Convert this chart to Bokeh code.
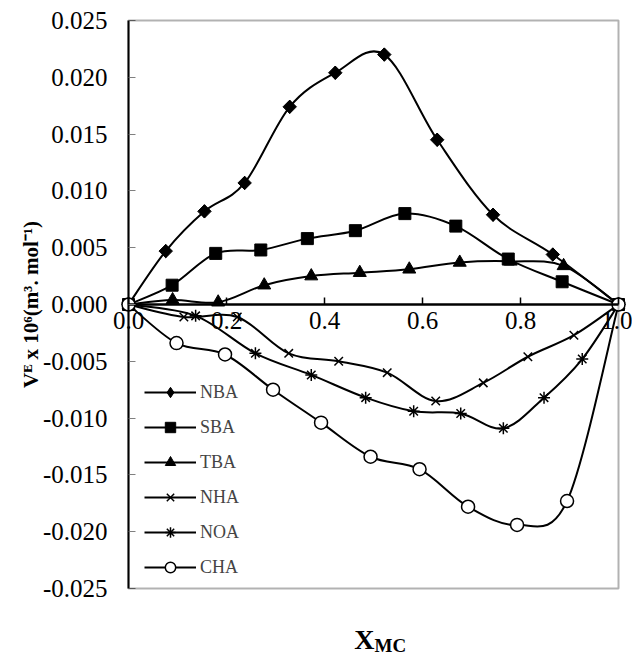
import numpy as np
from bokeh.plotting import figure
from bokeh.models import (Legend, LegendItem, Label, FixedTicker, ColumnDataSource,
                          LinearAxis, BoxAnnotation, Range1d)
from bokeh.embed import file_html
from bokeh.resources import INLINE

# ---------------- data ----------------
series_names = ["NBA", "SBA", "TBA", "NHA", "NOA", "CHA"]

x_nba = [0.0, 0.076, 0.155, 0.237, 0.329, 0.422, 0.522, 0.630, 0.744, 0.866, 1.0]
y_nba = [0.0, 0.0047, 0.0082, 0.0107, 0.0174, 0.0204, 0.0220, 0.0145, 0.0079, 0.0044, 0.0]

x_sba = [0.0, 0.089, 0.178, 0.270, 0.365, 0.463, 0.564, 0.668, 0.775, 0.885, 1.0]
y_sba = [0.0, 0.0017, 0.0045, 0.0048, 0.0058, 0.0065, 0.0080, 0.0069, 0.0040, 0.0020, 0.0]

x_tba = [0.0, 0.090, 0.183, 0.277, 0.373, 0.472, 0.573, 0.676, 0.780, 0.888, 1.0]
y_tba = [0.0, 0.0004, 0.0002, 0.0017, 0.0025, 0.0028, 0.0031, 0.0037, 0.0038, 0.0034, 0.0]

x_nha = [0.0, 0.113, 0.222, 0.327, 0.429, 0.528, 0.627, 0.724, 0.815, 0.909, 1.0]
y_nha = [0.0, -0.0011, -0.0011, -0.0043, -0.0050, -0.0060, -0.0085, -0.0069, -0.0046, -0.0027, 0.0]

x_noa = [0.0, 0.137, 0.259, 0.373, 0.484, 0.582, 0.678, 0.765, 0.848, 0.926, 1.0]
y_noa = [0.0, -0.0010, -0.0043, -0.0062, -0.0082, -0.0094, -0.0096, -0.0109, -0.0082, -0.0048, 0.0]

x_cha = [0.0, 0.098, 0.197, 0.295, 0.393, 0.494, 0.594, 0.693, 0.793, 0.895, 1.0]
y_cha = [0.0, -0.0034, -0.0044, -0.0075, -0.0104, -0.0134, -0.0145, -0.0178, -0.0194, -0.0173, 0.0]

x_ticks = [0.0, 0.2, 0.4, 0.6, 0.8, 1.0]
x_tick_labels = ["0.0", "0.2", "0.4", "0.6", "0.8", "1.0"]
y_ticks = [-0.025, -0.020, -0.015, -0.010, -0.005, 0.0, 0.005, 0.010, 0.015, 0.020, 0.025]
y_tick_labels = ["-0.025", "-0.020", "-0.015", "-0.010", "-0.005", "0.000",
                 "0.005", "0.010", "0.015", "0.020", "0.025"]

y_axis_title = "V\u1d31 x 10\u2076(m\u00b3. mol\u207b\u00b9)"
x_axis_main = "X"
x_axis_sub = "MC"

SERIF = "Liberation Serif"


def smooth_segments(xs, ys):
    """Catmull-Rom style Bezier control points (Excel-like smoothing)."""
    pts = np.column_stack([xs, ys]).astype(float)
    n = len(pts)
    d = dict(x0=[], y0=[], x1=[], y1=[], cx0=[], cy0=[], cx1=[], cy1=[])
    for i in range(n - 1):
        p0 = pts[i]
        p1 = pts[i + 1]
        pm = pts[i - 1] if i > 0 else pts[i]
        pp = pts[i + 2] if i + 2 < n else pts[i + 1]
        c0 = p0 + (p1 - pm) / 6.0
        c1 = p1 - (pp - p0) / 6.0
        d["x0"].append(p0[0]); d["y0"].append(p0[1])
        d["x1"].append(p1[0]); d["y1"].append(p1[1])
        d["cx0"].append(c0[0]); d["cy0"].append(c0[1])
        d["cx1"].append(c1[0]); d["cy1"].append(c1[1])
    return ColumnDataSource(d)


# frame fills the whole canvas; the plot box spans x 0..1 and y -0.025..0.025
W, H = 632, 663
box_left_px, box_w_px = 128, 490
zero_px, px_per_unit = 304, 11360.0
x_range = Range1d(-box_left_px / box_w_px, (W - box_left_px) / box_w_px)
y_range = Range1d(-(H - zero_px) / px_per_unit, zero_px / px_per_unit)

p = figure(width=W, height=H, x_range=x_range, y_range=y_range,
           x_axis_type=None, y_axis_type=None,
           output_backend="svg", toolbar_location=None,
           min_border_left=0, min_border_right=0, min_border_top=0, min_border_bottom=0)
p.background_fill_color = "white"
p.border_fill_color = "white"
p.outline_line_color = None

# x axis crossing at y = 0
xa = LinearAxis(fixed_location=0, bounds=(x_ticks[0], x_ticks[-1]))
xa.ticker = FixedTicker(ticks=x_ticks)
xa.major_label_overrides = dict(zip(x_ticks, x_tick_labels))
xa.major_tick_in = 7
xa.major_tick_out = 0
xa.minor_tick_line_color = None
xa.major_tick_line_color = "black"
xa.major_tick_line_width = 1.5
xa.axis_line_color = "black"
xa.axis_line_width = 2.5
xa.major_label_text_font = SERIF
xa.major_label_text_font_size = "25px"
xa.major_label_text_color = "black"
xa.major_label_standoff = 7
p.add_layout(xa, "below")

# y axis at x = 0
ya = LinearAxis(fixed_location=0, bounds=(y_ticks[0], y_ticks[-1]))
ya.ticker = FixedTicker(ticks=y_ticks)
ya.major_label_overrides = dict(zip(y_ticks, y_tick_labels))
ya.major_tick_in = 7
ya.major_tick_out = 0
ya.minor_tick_line_color = None
ya.major_tick_line_color = "#808080"
ya.axis_line_color = "black"
ya.axis_line_width = 2
ya.major_label_text_font = SERIF
ya.major_label_text_font_size = "25px"
ya.major_label_text_color = "black"
ya.major_label_standoff = 21
ya.axis_label = y_axis_title
ya.axis_label_text_font = SERIF
ya.axis_label_text_font_style = "bold"
ya.axis_label_text_font_size = "21px"
ya.axis_label_text_color = "black"
ya.axis_label_standoff = -3
p.add_layout(ya, "left")

# plot box
p.add_layout(BoxAnnotation(left=x_ticks[0], right=x_ticks[-1], bottom=y_ticks[0], top=y_ticks[-1],
                           fill_color=None, line_color="black", line_width=2))

styles = {
    "NBA": dict(marker="square", size=9.5, angle=np.pi / 4, fill_color="black", line_width=1),
    "SBA": dict(marker="square", size=12, angle=0, fill_color="black", line_width=1),
    "TBA": dict(marker="triangle", size=13, angle=0, fill_color="black", line_width=1),
    "NHA": dict(marker="x", size=12, angle=0, fill_color="black", line_width=1.5),
    "NOA": dict(marker="asterisk", size=12, angle=0, fill_color="black", line_width=1.5),
    "CHA": dict(marker="circle", size=13, angle=0, fill_color="white", line_width=1.5),
}
data = {
    "NBA": (x_nba, y_nba), "SBA": (x_sba, y_sba), "TBA": (x_tba, y_tba),
    "NHA": (x_nha, y_nha), "NOA": (x_noa, y_noa), "CHA": (x_cha, y_cha),
}

items = []
for name in series_names:
    xs, ys = data[name]
    st = styles[name]
    curve = p.bezier(x0="x0", y0="y0", x1="x1", y1="y1", cx0="cx0", cy0="cy0",
                     cx1="cx1", cy1="cy1", source=smooth_segments(xs, ys),
                     line_color="black", line_width=2)
    leg_marker = None
    if name == "NBA":
        # plain diamond (shown in legend), covered by the rotated square below
        leg_marker = p.scatter(x=xs, y=ys, marker="diamond", size=13,
                               fill_color="black", line_color="black")
    sc = p.scatter(x=xs, y=ys, marker=st["marker"], size=st["size"], angle=st["angle"],
                   fill_color=st["fill_color"], line_color="black", line_width=st["line_width"])
    items.append(LegendItem(label=name, renderers=[curve, leg_marker or sc]))

legend = Legend(items=items, location=(144, 83), padding=0, margin=0, spacing=9,
                glyph_width=52, glyph_height=26, label_height=26, label_standoff=4,
                label_text_font=SERIF, label_text_font_size="18px",
                background_fill_alpha=0, border_line_alpha=0)
p.add_layout(legend)

# x axis title with subscript
p.add_layout(Label(x=0.502, y=-(639 - zero_px) / px_per_unit, text=x_axis_main, text_font=SERIF,
                   text_font_style="bold", text_font_size="28px", text_align="right",
                   text_baseline="alphabetic", text_color="black"))
p.add_layout(Label(x=0.502, y=-(645 - zero_px) / px_per_unit, text=x_axis_sub, text_font=SERIF,
                   text_font_style="bold", text_font_size="19px", text_align="left",
                   text_baseline="alphabetic", text_color="black"))

open("out.html", "w").write(file_html(p, INLINE))
